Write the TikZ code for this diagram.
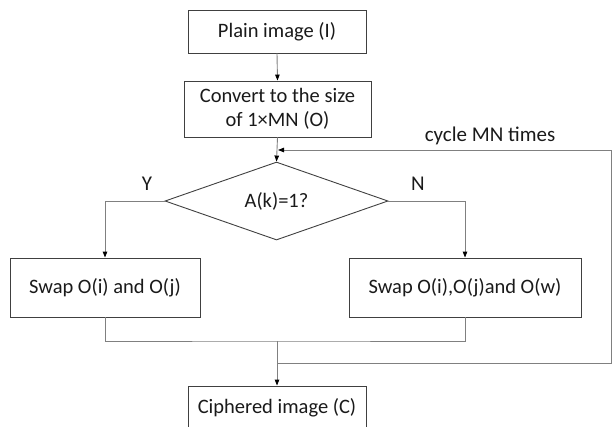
\documentclass[tikz,border=0pt]{standalone}
\usepackage{fontspec}
\setmainfont{Carlito}
\usetikzlibrary{arrows.meta,shapes.geometric}
\definecolor{wire}{HTML}{808080}
\definecolor{edge}{HTML}{404040}
\definecolor{ink}{HTML}{1A1A1A}
\tikzset{
  box/.style={draw=edge, line width=0.9pt, fill=white, text=ink, inner sep=0pt,
              font=\fontsize{20.5}{24}\selectfont, align=center},
  decision/.style={diamond, draw=edge, line width=0.9pt, text=ink, inner sep=0pt,
              minimum width=223pt, minimum height=78pt, aspect=2.86,
              font=\fontsize{20.5}{24}\selectfont},
  wireline/.style={draw=wire, line width=0.9pt},
  flow/.style={wireline, -{Triangle[length=6pt,width=4.5pt,color=black,fill=black]}},
  tag/.style={text=ink, font=\fontsize{21}{24}\selectfont}
}
\begin{document}
\begin{tikzpicture}[x=1pt,y=1pt]
\useasboundingbox (0,0) rectangle (612,-426);

% process steps
\node[box, minimum width=178pt, minimum height=43pt] (plain) at (277,-31.5) {Plain image (I)};
\node[box, minimum width=187pt, minimum height=56pt] (convert) at (277.5,-109) {Convert to the size\\of 1×MN (O)};
\node[decision] (test) at (276.5,-201) {A(k)=1?};
\node[box, minimum width=190pt, minimum height=59pt] (swapa) at (105,-287.5) {Swap O(i) and O(j)};
\node[box, minimum width=232pt, minimum height=59pt] (swapb) at (465,-287.5) {Swap O(i),O(j)and O(w)};
\node[box, minimum width=178pt, minimum height=43pt] (cipher) at (277,-407.5) {Ciphered image (C)};

% branch labels
\node[tag] (ylab) at (147,-184) {Y};
\node[tag] (nlab) at (418,-184) {N};
\node[tag] (cyc) at (490,-136) {cycle MN times};

% junction points
\coordinate (join) at (277,-341);
\coordinate (merge) at (277,-363);
\coordinate (loopB) at (611,-363);
\coordinate (loopT) at (611,-150);
\coordinate (loopIn) at (278,-150);

% connectors
\draw[flow] (plain.south) -- (convert.north);
\draw[flow] (convert.south) -- (test.north);
\draw[flow] (test.west) -| (swapa.north);
\draw[flow] (test.east) -| (swapb.north);
\draw[wireline] (swapa.south) |- (join) -| (swapb.south);
\draw[flow] (join) -- (cipher.north);
\draw[wireline] (merge) -- (loopB) -- (loopT);
\draw[flow] (loopT) -- (loopIn);
\end{tikzpicture}
\end{document}
